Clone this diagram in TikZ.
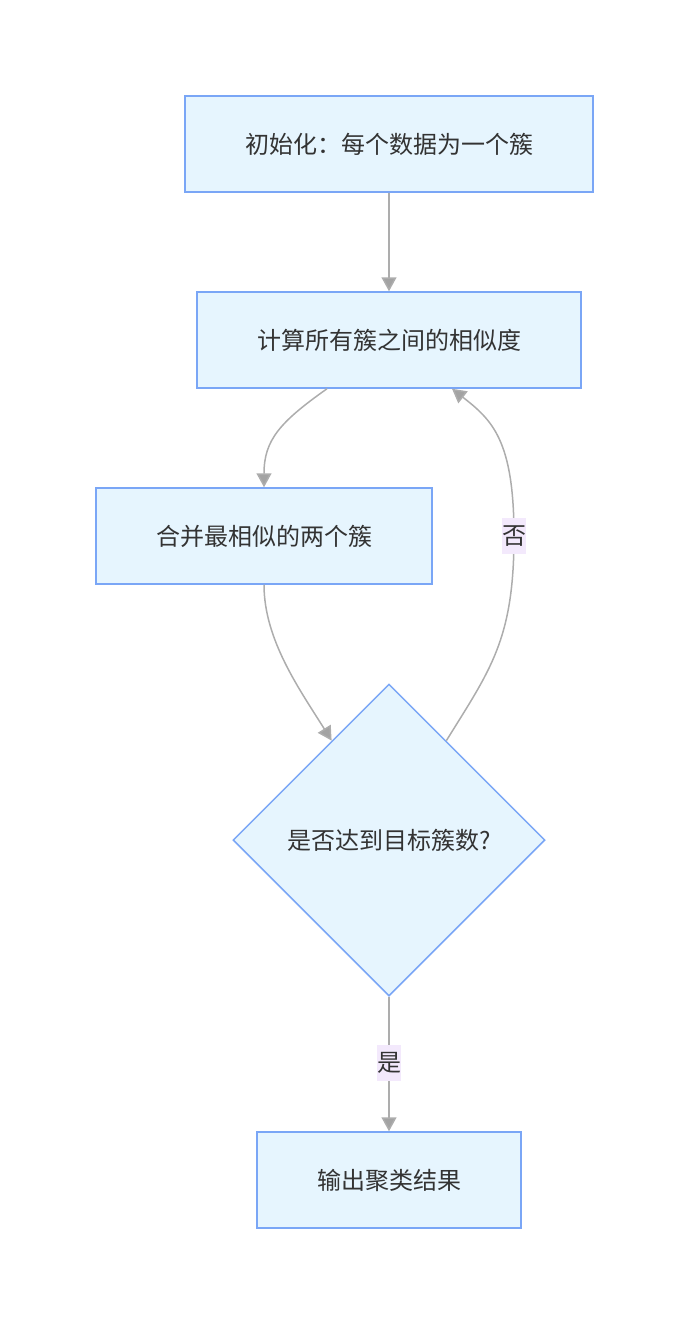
\documentclass[tikz,border=0pt]{standalone}
\usepackage{fontspec}
\newfontfamily\cjk{Noto Sans CJK SC}
\usetikzlibrary{shapes.geometric,arrows.meta}

\definecolor{boxfill}{HTML}{E6F5FE}
\definecolor{boxline}{HTML}{7AA6F6}
\definecolor{edgeline}{HTML}{ADADAD}
\definecolor{tipfill}{HTML}{A3A3A3}
\definecolor{labelfill}{HTML}{F3E9FC}
\definecolor{textcol}{HTML}{333333}

\tikzset{
    stepbox/.style={draw=boxline, line width=1.5pt, fill=boxfill, text=textcol,
        minimum height=96pt, inner sep=0pt, font=\cjk\fontsize{24}{28}\selectfont},
    checkbox/.style={stepbox, diamond, aspect=1, minimum width=312pt, minimum height=312pt},
    flow/.style={draw=edgeline, line width=1.5pt,
        -{Triangle[length=14pt,width=15pt,fill=tipfill]}},
    edgelabel/.style={fill=labelfill, text=textcol, inner sep=0pt,
        minimum width=24pt, minimum height=36pt, font=\cjk\fontsize{24}{28}\selectfont}
}

\begin{document}
\begin{tikzpicture}[x=1pt, y=-1pt]
        \useasboundingbox (0,0) rectangle (689,1324);

        % steps
        \node[stepbox, minimum width=408pt] (init) at (389,144) {初始化：每个数据为一个簇};
        \node[stepbox, minimum width=384pt] (sim) at (389,340) {计算所有簇之间的相似度};
        \node[stepbox, minimum width=336pt] (merge) at (264,536) {合并最相似的两个簇};
        \node[checkbox] (check) at (389,840) {是否达到目标簇数?};
        \node[stepbox, minimum width=264pt] (result) at (389,1180) {输出聚类结果};

        %% connection
        \draw[flow] (init) -- (sim);
        \draw[flow] ([xshift=-62pt]sim.south) ..controls(280,422) and (264,440).. (merge.north);
        \draw[flow] (merge.south) ..controls(264,640) and (300,690).. (check.120);
        % loop back
        \draw[flow] (check.60) ..controls(490,670) and (514,640).. (514,536)
            ..controls(514,440) and (492,420).. ([xshift=63pt]sim.south);
        \node[edgelabel] (no) at (514,536) {否};
        % exit
        \draw[flow] (check) -- (result);
        \node[edgelabel] (yes) at (389,1063) {是};
    \end{tikzpicture}
\end{document}
